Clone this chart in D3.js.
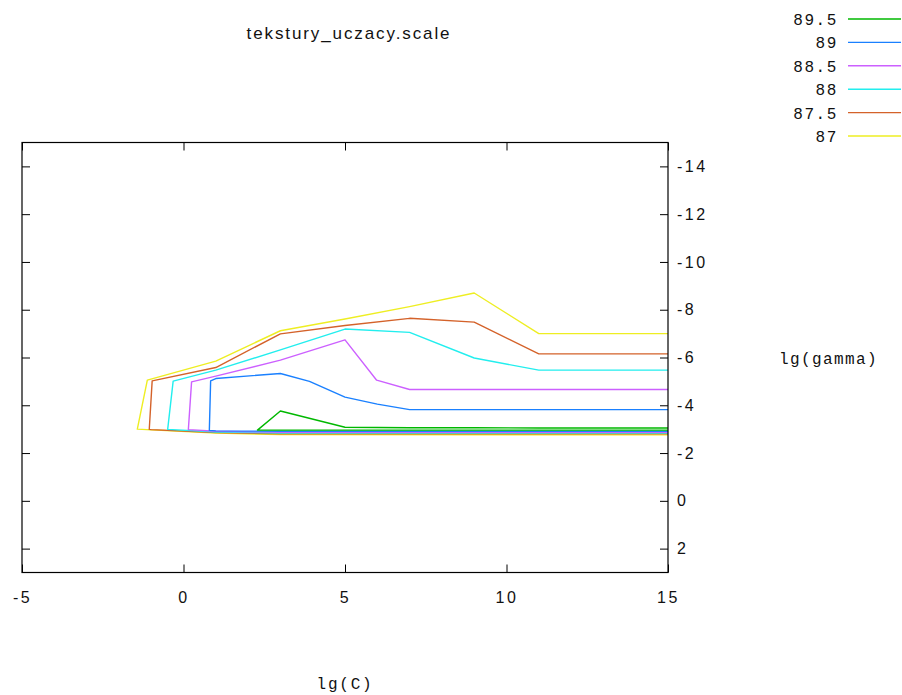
<!DOCTYPE html>
<html>
<head>
<meta charset="utf-8">
<script src="https://cdn.jsdelivr.net/npm/d3@7"></script>
<style>
  body { margin: 0; background: #fff; }
  svg { display: block; }
</style>
</head>
<body>
<svg id="chart" width="902" height="695"></svg>
<script>
// contour levels as in the legend (top to bottom)
var levels = ["89.5", "89", "88.5", "88", "87.5", "87"];
var x_ticks = [-5, 0, 5, 10, 15];
var y_ticks = [-14, -12, -10, -8, -6, -4, -2, 0, 2];

// each contour: [lg(C), lg(gamma)], upper branch from the right edge, then back along the bottom
var contour_895 = [[15, -3.05], [13, -3.05], [11, -3.05], [9, -3.06], [7, -3.06], [5, -3.08], [3, -3.76],
    [2.29, -2.96], [3, -2.96], [7, -2.96], [11, -2.96], [15, -2.96]];
var contour_89 = [[15, -3.82], [13, -3.82], [11, -3.82], [9, -3.82], [7, -3.82], [6, -4.05], [5, -4.34],
    [3.9, -5.0], [3, -5.33], [1, -5.12], [0.84, -5.02], [0.8, -2.95], [1, -2.93], [3, -2.91], [15, -2.91]];
var contour_885 = [[15, -4.66], [13, -4.66], [11, -4.66], [9, -4.66], [7, -4.66], [5.98, -5.05], [5, -6.74],
    [3, -5.89], [1, -5.22], [0.25, -4.98], [0.15, -2.98], [1, -2.91], [3, -2.87], [15, -2.87]];
var contour_88 = [[15, -5.47], [13, -5.47], [11, -5.47], [9, -5.98], [7, -7.05], [5, -7.19], [3, -6.32],
    [1, -5.47], [-0.32, -5.01], [-0.49, -2.99], [1, -2.88], [3, -2.84], [15, -2.84]];
var contour_875 = [[15, -6.15], [13, -6.15], [11, -6.15], [9, -7.48], [7, -7.64], [5, -7.34], [3, -6.99],
    [1, -5.58], [-0.97, -5.02], [-1.06, -2.99], [-1, -2.98], [1, -2.86], [3, -2.81], [15, -2.81]];
var contour_87 = [[15, -7.0], [13, -7.0], [11, -7.0], [9, -8.7], [7, -8.13], [5, -7.61], [3, -7.12],
    [1, -5.85], [-1.12, -5.05], [-1.43, -3.0], [-1, -2.97], [1, -2.84], [3, -2.77], [15, -2.76]];

var contours = [contour_895, contour_89, contour_885, contour_88, contour_875, contour_87];
var colors = ["#00b800", "#1a80ff", "#cc60ff", "#22eeee", "#d4622a", "#eeee22"];

var chart = d3.select("#chart");
var plot_left = 22, plot_right = 668, plot_top = 142.5, plot_bottom = 572.5;

var xs = d3.scaleLinear().domain([-5, 15]).range([plot_left, plot_right]);
var ys = d3.scaleLinear().domain([-15, 3]).range([plot_top, plot_bottom]);

chart.append("defs").append("clipPath")
    .attr("id", "plot_clip")
    .append("rect")
        .attr("x", plot_left)
        .attr("y", plot_top)
        .attr("width", plot_right - plot_left)
        .attr("height", plot_bottom - plot_top);

var line = d3.line()
    .x(d => xs(d[0]))
    .y(d => ys(d[1]));

var lines_g = chart.append("g").attr("clip-path", "url(#plot_clip)");
// draw lowest level first so the higher ones sit on top like in gnuplot output
for (var i = contours.length - 1; i >= 0; i--) {
    lines_g.append("path")
        .datum(contours[i])
        .attr("fill", "none")
        .attr("stroke", colors[i])
        .attr("stroke-width", 1.4)
        .attr("stroke-linejoin", "round")
        .attr("d", line);
}

function style_axis(g) {
    g.select(".domain").remove();
    g.selectAll(".tick line").attr("stroke", "#000").attr("stroke-width", 1);
    g.selectAll("text")
        .attr("font-family", "Liberation Sans, Arial, sans-serif")
        .attr("font-size", 16)
        .attr("letter-spacing", "2.5px")
        .attr("fill", "#111");
}

chart.append("g")
    .attr("transform", "translate(0," + plot_bottom + ")")
    .call(d3.axisBottom(xs).tickValues(x_ticks).tickSizeInner(-8).tickSizeOuter(0)
        .tickPadding(19).tickFormat(d => String(d)))
    .call(style_axis);

chart.append("g")
    .attr("transform", "translate(0," + plot_top + ")")
    .call(d3.axisTop(xs).tickValues(x_ticks).tickSizeInner(-8).tickSizeOuter(0).tickFormat(""))
    .call(style_axis);

chart.append("g")
    .attr("transform", "translate(" + plot_right + ",0)")
    .call(d3.axisRight(ys).tickValues(y_ticks).tickSizeInner(-8).tickSizeOuter(0)
        .tickPadding(9).tickFormat(d => String(d)))
    .call(style_axis);

chart.append("g")
    .attr("transform", "translate(" + plot_left + ",0)")
    .call(d3.axisLeft(ys).tickValues(y_ticks).tickSizeInner(-8).tickSizeOuter(0).tickFormat(""))
    .call(style_axis);

chart.append("rect")
    .attr("x", plot_left)
    .attr("y", plot_top)
    .attr("width", plot_right - plot_left)
    .attr("height", plot_bottom - plot_top)
    .attr("fill", "none")
    .attr("stroke", "#000")
    .attr("stroke-width", 1.2);

chart.append("text")
    .attr("x", 349)
    .attr("y", 39)
    .attr("text-anchor", "middle")
    .attr("font-family", "Liberation Sans, Arial, sans-serif")
    .attr("font-size", 17)
    .attr("letter-spacing", "1.9px")
    .attr("fill", "#111")
    .text("tekstury_uczacy.scale");

var mono = "Liberation Mono, DejaVu Sans Mono, monospace";

chart.append("text")
    .attr("x", 345)
    .attr("y", 689)
    .attr("text-anchor", "middle")
    .attr("font-family", mono)
    .attr("font-size", 16)
    .attr("letter-spacing", "1.8px")
    .attr("fill", "#111")
    .text("lg(C)");

chart.append("text")
    .attr("x", 779)
    .attr("y", 364)
    .attr("font-family", mono)
    .attr("font-size", 16)
    .attr("letter-spacing", "1.4px")
    .attr("fill", "#111")
    .text("lg(gamma)");

// legend
var legend_g = chart.append("g");
legend_g.selectAll("line")
    .data(levels)
    .enter()
    .append("line")
        .attr("x1", 848)
        .attr("x2", 901)
        .attr("y1", (d, i) => 19 + i * 23.4)
        .attr("y2", (d, i) => 19 + i * 23.4)
        .attr("stroke", (d, i) => colors[i])
        .attr("stroke-width", 1.4);

legend_g.selectAll("text")
    .data(levels)
    .enter()
    .append("text")
        .attr("x", 838)
        .attr("y", (d, i) => 19 + i * 23.4 + 6)
        .attr("text-anchor", "end")
        .attr("font-family", mono)
        .attr("font-size", 16)
        .attr("letter-spacing", "1.6px")
        .attr("fill", "#111")
        .text(d => d);
</script>
</body>
</html>
